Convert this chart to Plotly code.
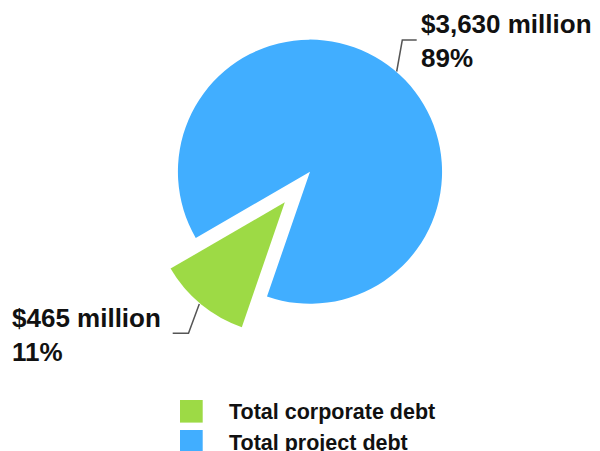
import plotly.graph_objects as go

# data
categories = ["Total corporate debt", "Total project debt"]
values = [465, 3630]  # $ million
colors = ["#9DDA45", "#41AEFF"]
pulls = [0.30, 0]

W, H = 600, 451
FONT = "Liberation Sans, Arial, sans-serif"


def px(x):
    return x / W


def py(y):
    return 1 - y / H


total = sum(values)
pct = [round(v / total * 100) for v in values]
labels = [f"${v:,} million<br>{p}%" for v, p in zip(values, pct)]

fig = go.Figure(go.Pie(
    labels=categories,
    values=values,
    sort=False,
    direction="clockwise",
    rotation=199,
    pull=pulls,
    marker=dict(colors=colors, line=dict(width=0)),
    textinfo="none",
    hoverinfo="label+value+percent",
    showlegend=False,
    domain=dict(x=[0.2, 0.8333], y=[0.2386, 1.0]),
))

# leader lines for the two slice labels
line_style = dict(color="#555555", width=1.5)
fig.add_shape(type="path", xref="paper", yref="paper", line=line_style,
              path=f"M {px(396.7)},{py(71.5)} L {px(402.3)},{py(40)} L {px(416.7)},{py(40)}")
fig.add_shape(type="path", xref="paper", yref="paper", line=line_style,
              path=f"M {px(199.3)},{py(304)} L {px(188.5)},{py(333.3)} L {px(172.7)},{py(333.3)}")

fig.add_annotation(x=px(419), y=py(40.5), xref="paper", yref="paper",
                   text=labels[1], showarrow=False, xanchor="left", yanchor="middle",
                   align="left", font=dict(family=FONT, size=26, color="#111111", weight="bold"))
fig.add_annotation(x=px(10), y=py(335), xref="paper", yref="paper",
                   text=labels[0], showarrow=False, xanchor="left", yanchor="middle",
                   align="left", font=dict(family=FONT, size=26, color="#111111", weight="bold"))

# legend: coloured squares with bold labels
legend_y = [411.3, 441.3]
text_y = [411.8, 443.0]
for name, col, yc, yt in zip(categories, colors, legend_y, text_y):
    fig.add_shape(type="rect", xref="paper", yref="paper",
                  x0=px(180), x1=px(202.7), y0=py(yc - 11.3), y1=py(yc + 11.3),
                  fillcolor=col, line=dict(width=0))
    fig.add_annotation(x=px(227), y=py(yt), xref="paper", yref="paper",
                       text=name, showarrow=False, xanchor="left", yanchor="middle",
                       font=dict(family=FONT, size=21.5, color="#111111", weight="bold"))

fig.update_layout(
    width=W, height=H,
    margin=dict(l=0, r=0, t=0, b=0),
    paper_bgcolor="white",
    plot_bgcolor="white",
    font=dict(family=FONT),
)

fig.write_html("out.html", config={"displayModeBar": False},
               post_script="document.body.style.margin = '0';")
